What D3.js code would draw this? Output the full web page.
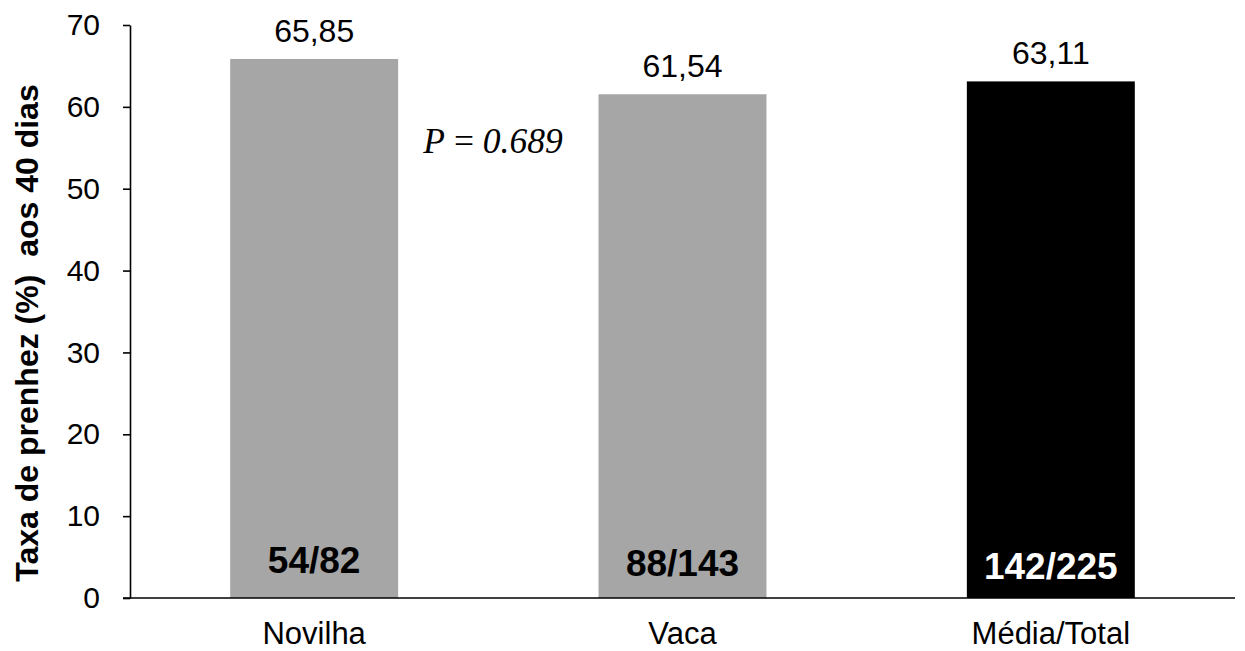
<!DOCTYPE html>
<html><head><meta charset="utf-8">
<script src="https://cdn.jsdelivr.net/npm/d3@7"></script>
<style>body{margin:0;background:#fff}svg{display:block}</style>
</head><body>
<svg id="c" width="1245" height="651"></svg>
<script>
const categories = ["Novilha", "Vaca", "Média/Total"];
const values = [65.85, 61.54, 63.11];
const valueLabels = ["65,85", "61,54", "63,11"];
const countLabels = ["54/82", "88/143", "142/225"];
const barColors = ["#a6a6a6", "#a6a6a6", "#000000"];
const countColors = ["#000000", "#000000", "#ffffff"];
const yTicks = [0, 10, 20, 30, 40, 50, 60, 70];

const svg = d3.select("#c");
const x0 = 130, x1 = 1235, yTop = 25, yBot = 598;
const x = d3.scaleBand().domain(categories).range([x0, x1]).paddingInner(0.544).paddingOuter(0.272);
const y = d3.scaleLinear().domain([0, 70]).range([yBot, yTop]);
const font = "Liberation Sans, Arial, sans-serif";

// bars
svg.selectAll("rect.bar").data(categories).join("rect")
  .attr("x", d => x(d)).attr("width", x.bandwidth())
  .attr("y", (d, i) => y(values[i])).attr("height", (d, i) => y(0) - y(values[i]))
  .attr("fill", (d, i) => barColors[i]);

// y axis
const ya = svg.append("g").attr("transform", `translate(${x0},0)`)
  .call(d3.axisLeft(y).tickValues(yTicks).tickSize(7).tickPadding(23).tickSizeOuter(0));
ya.select(".domain").attr("stroke", "#000").attr("stroke-width", 1.6);
ya.selectAll(".tick line").attr("stroke", "#000").attr("stroke-width", 1.6);
ya.selectAll(".tick text").attr("font-family", font).attr("font-size", 30).attr("fill", "#000");

// x axis
const xa = svg.append("g").attr("transform", `translate(0,${yBot})`)
  .call(d3.axisBottom(x).tickSize(0).tickPadding(0).tickSizeOuter(0));
xa.select(".domain").attr("d", `M${x0 - 7},0H${x1}`).attr("stroke", "#000").attr("stroke-width", 1.6);
xa.selectAll(".tick text").attr("font-family", font).attr("font-size", 31).attr("fill", "#000")
  .attr("dy", null).attr("y", 46);

// value labels
svg.selectAll("text.val").data(categories).join("text")
  .attr("x", d => x(d) + x.bandwidth() / 2).attr("y", (d, i) => y(values[i]) - 17)
  .attr("text-anchor", "middle").attr("font-family", font).attr("font-size", 32)
  .text((d, i) => valueLabels[i]);

// count labels
svg.selectAll("text.cnt").data(categories).join("text")
  .attr("x", d => x(d) + x.bandwidth() / 2).attr("y", (d, i) => y(0) - 25 + i * 3)
  .attr("text-anchor", "middle").attr("font-family", font).attr("font-size", 37)
  .attr("font-weight", "bold").attr("fill", (d, i) => countColors[i])
  .text((d, i) => countLabels[i]);

// P value
const p = svg.append("text").attr("x", 493).attr("y", 153).attr("text-anchor", "middle")
  .attr("font-family", "Liberation Serif, Times New Roman, serif").attr("font-size", 35.5)
  .style("white-space", "pre");
p.append("tspan").attr("font-style", "italic").text("P");
p.append("tspan").text(" = ");
p.append("tspan").attr("font-style", "italic").text("0.689");

// y title
svg.append("text").attr("transform", "translate(38,333) rotate(-90)")
  .attr("text-anchor", "middle").attr("font-family", font).attr("font-size", 32)
  .attr("font-weight", "bold").style("white-space", "pre")
  .text("Taxa de prenhez (%)  aos 40 dias");
</script>
</body></html>
